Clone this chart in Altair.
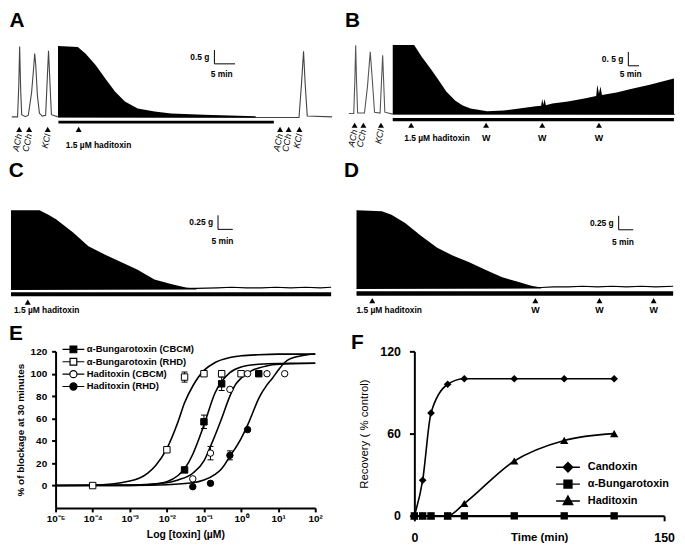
import altair as alt
import pandas as pd

FONT = "Liberation Sans"

# ---------------- Panel A : time (min), tension (g) ----------------
a_trace_t = [0.2, 1.6, 1.9, 2.1, 2.35, 2.6, 3.5, 4.2, 5.0, 5.5, 5.75, 6.0, 6.4, 6.9, 7.6, 8.4, 8.8, 9.1, 9.4, 9.8, 11.2,
             59.8, 69.8, 70.4, 70.9, 71.3, 71.8, 77.8]
a_trace_g = [0.02, 0.02, 1.2, 2.55, 1.0, 0.1, 0.03, 0.08, 0.9, 1.8, 2.3, 1.9, 0.8, 0.15, 0.05, 0.08, 1.4, 2.4, 1.4, 0.1, 0.03,
             0.0, 0.0, 1.2, 2.38, 1.2, 0.05, 0.02]
a_block_t = [11.4, 16.2, 18.1, 20.5, 22.9, 25.2, 27.6, 30.7, 34.8, 38.8, 46.7, 59.3]
a_block_g = [2.57, 2.54, 2.29, 1.89, 1.39, 0.93, 0.57, 0.32, 0.21, 0.14, 0.10, 0.04]
a_exposure = [11.5, 63.7]
a_agonist_t = [2.0, 4.4, 8.9, 65.2, 67.3, 69.9]
a_agonist_lbl = ["ACh", "CCh", "KCl", "ACh", "CCh", "KCl"]
a_toxin_t = [16.4]
a_wash_t = []
a_scalebar = {"t": 49.3, "g": 1.93, "dt": 5, "dg": 0.5, "lbl_g": "0.5 g", "lbl_t": "5 min"}

# ---------------- Panel B ----------------
b_trace_t = [1.8, 4.1, 4.6, 5.0, 5.4, 5.9, 9.1, 10.5, 11.8, 12.8, 13.8, 16.4, 17.0, 17.6, 18.1, 18.6, 21.8, 154.0]
b_trace_g = [0.03, 0.03, 1.2, 2.49, 1.2, 0.05, 0.05, 1.0, 2.25, 1.2, 0.08, 0.05, 1.1, 2.13, 1.1, 0.08, 0.02, 0.0]
b_block_t = [22.3, 32.3, 35.9, 40.0, 43.6, 47.3, 51.4, 55.0, 58.6, 66.4, 74.1, 81.4, 89.1, 91.6, 92.1, 92.6, 93.2,
             93.8, 96.8, 104.1, 111.8, 117.3, 117.8, 118.6, 119.3, 120.0, 126.8, 134.5, 142.3, 149.5, 153.6]
b_block_g = [2.50, 2.50, 2.07, 1.64, 1.25, 0.82, 0.50, 0.32, 0.21, 0.11, 0.14, 0.21, 0.29, 0.31, 0.55, 0.35, 0.55,
             0.33, 0.39, 0.46, 0.57, 0.66, 1.07, 0.75, 1.0, 0.7, 0.79, 0.93, 1.07, 1.21, 1.29]
b_exposure = [22.3, 153.6]
b_agonist_t = [4.5, 8.6, 16.8]
b_agonist_lbl = ["ACh", "CCh", "KCl"]
b_toxin_t = [30.9]
b_wash_t = [65.9, 92.1, 118.6]
b_scalebar = {"t": 132.3, "g": 1.75, "dt": 5, "dg": 0.5, "lbl_g": "0. 5 g", "lbl_t": "5 min"}

# ---------------- Panel C ----------------
c_trace_t = [0, 63.0, 70, 75, 80, 85, 90, 95, 100, 105, 108.7]
c_trace_g = [0.0, 0.02, 0.03, 0.04, 0.03, 0.03, 0.04, 0.03, 0.04, 0.03, 0.04]
c_block_t = [0, 9.7, 12.7, 15.3, 21.0, 26.3, 32.0, 37.7, 43.0, 48.7, 54.3, 59.7, 63.0]
c_block_g = [1.41, 1.41, 1.33, 1.25, 1.02, 0.77, 0.62, 0.48, 0.35, 0.18, 0.10, 0.03, 0.02]
c_exposure = [0, 108.7]
c_toxin_t = [5.7]
c_wash_t = []
c_scalebar = {"t": 70.3, "g": 1.07, "dt": 5, "dg": 0.25, "lbl_g": "0.25 g", "lbl_t": "5 min"}

# ---------------- Panel D ----------------
d_trace_t = [4.3, 67.7, 72, 77, 82, 87, 92, 97, 102, 107, 113.0]
d_trace_g = [0.0, 0.02, 0.03, 0.03, 0.04, 0.03, 0.04, 0.03, 0.04, 0.03, 0.04]
d_block_t = [4.3, 13.0, 16.3, 21.0, 26.3, 32.0, 37.7, 43.0, 48.7, 54.3, 59.7, 64.3, 67.7]
d_block_g = [1.40, 1.38, 1.32, 1.17, 0.95, 0.73, 0.58, 0.47, 0.33, 0.20, 0.12, 0.05, 0.02]
d_exposure = [4.3, 113.0]
d_toxin_t = [9.7]
d_wash_t = [65.7, 87.7, 106.3]
d_scalebar = {"t": 94.3, "g": 1.05, "dt": 5, "dg": 0.25, "lbl_g": "0.25 g", "lbl_t": "5 min"}

toxin_label = "1.5 µM haditoxin"

# ---------------- Panel E : concentration-response ----------------
e_series = ["α-Bungarotoxin (CBCM)", "α-Bungarotoxin (RHD)", "Haditoxin (CBCM)", "Haditoxin (RHD)"]
bgt_cbcm_conc = [0.03, 0.1, 0.3, 3]
bgt_cbcm_block = [14, 57, 91, 100]
bgt_cbcm_sem = [0, 6, 6, 0]
bgt_rhd_conc = [1e-4, 0.01, 0.03, 0.1, 0.3, 1]
bgt_rhd_block = [0, 32, 97, 100, 100, 100]
bgt_rhd_sem = [0, 0, 4.5, 0, 0, 0]
hdt_cbcm_conc = [0.05, 0.15, 0.5, 1.5, 5, 15]
hdt_cbcm_block = [6, 29, 86, 100, 100, 100]
hdt_cbcm_sem = [0, 6, 0, 0, 0, 0]
hdt_rhd_conc = [0.05, 0.15, 0.5, 1.5]
hdt_rhd_block = [-1, 2, 27, 50]
hdt_rhd_sem = [0, 0, 4, 0]

bgt_cbcm_fit_conc = [1e-5, 1e-3, 3e-3, 0.01, 0.02, 0.03, 0.05, 0.07, 0.1, 0.2, 0.3, 0.5, 1, 3, 10, 100]
bgt_cbcm_fit = [0, 0.2, 0.7, 3.5, 9, 15, 28, 40, 54, 83, 93, 101, 106, 108.5, 109.2, 109.3]
bgt_rhd_fit_conc = [1e-5, 1e-4, 1e-3, 3e-3, 5e-3, 0.01, 0.02, 0.03, 0.05, 0.1, 0.2, 0.5, 1, 3, 10, 100]
bgt_rhd_fit = [0, 0.3, 4, 11, 18, 33, 57, 74, 89, 103, 110, 114.5, 116, 117, 117.5, 117.5]
hdt_cbcm_fit_conc = [1e-5, 1e-3, 0.01, 0.02, 0.05, 0.1, 0.15, 0.2, 0.3, 0.5, 0.7, 1, 2, 3, 7, 20, 100]
hdt_cbcm_fit = [0, 0.5, 2.5, 5, 11, 22, 35, 45, 60, 80, 90, 96, 103, 105, 108, 109, 109.3]
hdt_rhd_fit_conc = [1e-5, 1e-3, 0.01, 0.05, 0.1, 0.2, 0.3, 0.5, 1, 1.5, 2, 3, 5, 7, 10, 15, 20, 50, 100]
hdt_rhd_fit = [0, 0.2, 0.8, 2.5, 5, 10, 15, 26, 42, 54, 64, 78, 90, 96, 103, 110, 113, 116.5, 117.6]

e_xticks = [1e-5, 1e-4, 1e-3, 1e-2, 1e-1, 1e0, 1e1, 1e2]
e_xtick_labels = ["10⁻⁵", "10⁻⁴", "10⁻³", "10⁻²", "10⁻¹", "10⁰", "10¹", "10²"]
e_yticks = [0, 20, 40, 60, 80, 100, 120]

# ---------------- Panel F : recovery ----------------
f_series = ["Candoxin", "α-Bungarotoxin", "Haditoxin"]
f_time = [0, 5, 10, 20, 30, 60, 90, 120]
f_candoxin = [0, 26, 75, 96, 100, 100, 100, 100]
f_bungarotoxin = [0, 0, 0, 0, 0, 0, 0, 0]
f_haditoxin = [0, 0, 0, 0, 9, 40, 55, 60]
f_xticks = [0, 150]
f_yticks = [0, 60, 120]


def trace_panel(letter, w, h, xdom, ydom, trace_t, trace_g, trace_color, block_t, block_g,
                expo, bar_g, arrow_g, agon_t, agon_lbl, agon_g, toxin_t, toxin_dx,
                wash_t, lbl_g, sb, sb_dy, title_offset):
    xs = alt.Scale(domain=xdom, nice=False, zero=False)
    ys = alt.Scale(domain=ydom, nice=False, zero=False)

    def X(f):
        return alt.X(f, scale=xs, axis=None)

    def Y(f):
        return alt.Y(f, scale=ys, axis=None)

    def YD(v):
        return alt.YDatum(v, scale=ys, axis=None)

    layers = [
        alt.Chart(pd.DataFrame({"t": trace_t, "g": trace_g}))
        .mark_line(color=trace_color, strokeWidth=1.1)
        .encode(x=X("t:Q"), y=Y("g:Q")),
        alt.Chart(pd.DataFrame({"t": block_t, "g": block_g}))
        .mark_area(color="black")
        .encode(x=X("t:Q"), y=Y("g:Q"), y2=alt.datum(0)),
        alt.Chart(pd.DataFrame({"t0": [expo[0]], "t1": [expo[1]]}))
        .mark_rect(color="black")
        .encode(x=X("t0:Q"), x2="t1:Q", y=YD(bar_g[0]), y2=alt.datum(bar_g[1])),
        alt.Chart(pd.DataFrame({"t": agon_t + toxin_t + wash_t}))
        .mark_point(shape="triangle-up", filled=True, color="black", size=36, opacity=1)
        .encode(x=X("t:Q"), y=YD(arrow_g)),
        alt.Chart(pd.DataFrame({"t": toxin_t, "lbl": [toxin_label] * len(toxin_t)}))
        .mark_text(align="left", baseline="middle", dx=toxin_dx, font=FONT, fontSize=8.5,
                   fontWeight="bold", color="black")
        .encode(x=X("t:Q"), y=YD(lbl_g), text="lbl:N"),
    ]
    if agon_t:
        layers.append(
            alt.Chart(pd.DataFrame({"t": agon_t, "lbl": agon_lbl}))
            .mark_text(angle=282, align="right", baseline="middle", font=FONT, fontSize=9,
                       fontStyle="italic", color="black")
            .encode(x=X("t:Q"), y=YD(agon_g), text="lbl:N"))
    if wash_t:
        layers.append(
            alt.Chart(pd.DataFrame({"t": wash_t, "lbl": ["W"] * len(wash_t)}))
            .mark_text(align="center", baseline="middle", font=FONT, fontSize=9,
                       fontWeight="bold", color="black")
            .encode(x=X("t:Q"), y=YD(lbl_g), text="lbl:N"))
    sdf = pd.DataFrame({
        "t0": [sb["t"]], "t1": [sb["t"] + sb["dt"]], "tm": [sb["t"] + sb["dt"] / 2],
        "g0": [sb["g"]], "g1": [sb["g"] + sb["dg"]], "gm": [sb["g"] + sb["dg"] / 2],
        "lg": [sb["lbl_g"]], "lt": [sb["lbl_t"]]})
    layers += [
        alt.Chart(sdf).mark_rule(color="black", strokeWidth=1)
        .encode(x=X("t0:Q"), y=Y("g0:Q"), y2="g1:Q"),
        alt.Chart(sdf).mark_rule(color="black", strokeWidth=1)
        .encode(x=X("t0:Q"), x2="t1:Q", y=Y("g0:Q")),
        alt.Chart(sdf).mark_text(align="right", baseline="middle", dx=-5, font=FONT, fontSize=8.5,
                                 fontWeight="bold", color="black")
        .encode(x=X("t0:Q"), y=Y("gm:Q"), text="lg:N"),
        alt.Chart(sdf).mark_text(align="center", baseline="middle", dx=-3, dy=sb_dy, font=FONT,
                                 fontSize=8.5, fontWeight="bold", color="black")
        .encode(x=X("tm:Q"), y=Y("g0:Q"), text="lt:N"),
    ]
    return alt.layer(*layers).properties(
        width=w, height=h,
        title=alt.TitleParams(letter, anchor="start", font=FONT, fontSize=21, fontWeight="bold",
                              color="black", offset=title_offset))


panel_a = trace_panel("A", 326, 116, [0, 78.3], [-1.32, 2.82], a_trace_t, a_trace_g, "#444",
                      a_block_t, a_block_g, a_exposure, [-0.12, -0.22], -0.43,
                      a_agonist_t, a_agonist_lbl, -0.6, a_toxin_t, -13, a_wash_t, -0.98,
                      a_scalebar, 10, 8)
panel_b = trace_panel("B", 333, 116, [0, 154.1], [-1.43, 2.71], b_trace_t, b_trace_g, "#555",
                      b_block_t, b_block_g, b_exposure, [-0.13, -0.25], -0.39,
                      b_agonist_t, b_agonist_lbl, -0.55, b_toxin_t, -7, b_wash_t, -0.86,
                      b_scalebar, 8, 8)
panel_c = trace_panel("C", 326, 118, [0, 109.7], [-0.5, 1.58], c_trace_t, c_trace_g, "black",
                      c_block_t, c_block_g, c_exposure, [-0.05, -0.12], -0.225,
                      [], [], 0, c_toxin_t, -14, c_wash_t, -0.37, c_scalebar, 12, 20)
panel_d = trace_panel("D", 333, 118, [0, 113.3], [-0.52, 1.57], d_trace_t, d_trace_g, "black",
                      d_block_t, d_block_g, d_exposure, [-0.05, -0.13], -0.215,
                      [], [], 0, d_toxin_t, -16, d_wash_t, -0.38, d_scalebar, 12, 20)

# ---------------- E chart ----------------
pts = []
for s, cc, vv, ee in zip(e_series,
                         [bgt_cbcm_conc, bgt_rhd_conc, hdt_cbcm_conc, hdt_rhd_conc],
                         [bgt_cbcm_block, bgt_rhd_block, hdt_cbcm_block, hdt_rhd_block],
                         [bgt_cbcm_sem, bgt_rhd_sem, hdt_cbcm_sem, hdt_rhd_sem]):
    for c, v, e in zip(cc, vv, ee):
        pts.append({"conc": c, "pct": v, "sem": e, "series": s})
points_e = pd.DataFrame(pts)

fits = []
for s, cc, vv in zip(e_series,
                     [bgt_cbcm_fit_conc, bgt_rhd_fit_conc, hdt_cbcm_fit_conc, hdt_rhd_fit_conc],
                     [bgt_cbcm_fit, bgt_rhd_fit, hdt_cbcm_fit, hdt_rhd_fit]):
    for c, v in zip(cc, vv):
        fits.append({"conc": c, "pct": v, "series": s})
curves_e = pd.DataFrame(fits)

E_LEFT, E_PLOT_W, E_H = 45, 262, 158
label_expr = "[" + ",".join("'%s'" % l for l in e_xtick_labels) + "][round(log(datum.value) / LN10) + 5]"
xs_e = alt.Scale(type="log", domain=[1e-5, 100], range=[E_LEFT, E_LEFT + E_PLOT_W], nice=False)
ys_e = alt.Scale(domain=[-20, 120], nice=False, zero=False)
ax_ex = alt.Axis(values=e_xticks, labelExpr=label_expr, title="Log [toxin] (µM)", labelFontSize=10,
                 labelFontWeight="bold", titleFontSize=10.5, titleFontWeight="bold", tickSize=4,
                 labelPadding=2, titlePadding=6, labelFlush=False, titleX=E_LEFT + E_PLOT_W / 2)
ax_ey = alt.Axis(values=e_yticks, title="% of blockage at 30 minutes", labelFontSize=10,
                 labelFontWeight="bold", titleFontSize=10, titleFontWeight="bold", tickSize=4,
                 labelPadding=5, titlePadding=5, offset=-E_LEFT)
XE = alt.X("conc:Q", scale=xs_e, axis=ax_ex)
YE = alt.Y("pct:Q", scale=ys_e, axis=ax_ey)

e_curves = alt.Chart(curves_e).mark_line(interpolate="monotone", color="black", strokeWidth=1.6).encode(
    x=XE, y=YE, detail="series:N")
e_err_base = alt.Chart(points_e).transform_filter("datum.sem > 0").transform_calculate(
    lo="datum.pct - datum.sem", hi="datum.pct + datum.sem")
e_err = e_err_base.mark_rule(color="black", strokeWidth=1).encode(
    x=XE, y=alt.Y("lo:Q", scale=ys_e, axis=ax_ey), y2="hi:Q")
e_cap_lo = e_err_base.mark_point(shape="M-1,0H1", size=36, color="black", strokeWidth=1, opacity=1).encode(
    x=XE, y=alt.Y("lo:Q", scale=ys_e, axis=ax_ey))
e_cap_hi = e_err_base.mark_point(shape="M-1,0H1", size=36, color="black", strokeWidth=1, opacity=1).encode(
    x=XE, y=alt.Y("hi:Q", scale=ys_e, axis=ax_ey))

e_marker_style = [("square", "black"), ("square", "white"), ("circle", "white"), ("circle", "black")]
e_markers = []
for s, (shp, fc) in zip(e_series, e_marker_style):
    e_markers.append(
        alt.Chart(points_e).transform_filter(alt.datum.series == s)
        .mark_point(shape=shp, filled=True, fill=fc, stroke="black", strokeWidth=1, size=42, opacity=1)
        .encode(x=XE, y=YE))

e_paths = [
    "M-2.75,0H2.75M-0.85,-0.85H0.85V0.85H-0.85Z",
    "M-2.75,0H-0.85M0.85,0H2.75M-0.85,-0.85H0.85V0.85H-0.85Z",
    "M-2.75,0H-0.9M0.9,0H2.75M-0.9,0A0.9,0.9,0,1,0,0.9,0A0.9,0.9,0,1,0,-0.9,0Z",
    "M-2.75,0H2.75M-0.9,0A0.9,0.9,0,1,0,0.9,0A0.9,0.9,0,1,0,-0.9,0Z",
]
leg_e = alt.Legend(orient="none", legendX=E_LEFT + 13, legendY=-7, title=None, symbolSize=64,
                   symbolStrokeColor="black", symbolStrokeWidth=1.2, symbolOpacity=1,
                   labelFont=FONT, labelFontSize=9.5, labelFontWeight="bold", labelColor="black",
                   labelOffset=8.5, rowPadding=0.5, padding=0)
e_legend = alt.Chart(points_e).mark_point(filled=True, opacity=0, strokeWidth=1.2).encode(
    x=XE, y=YE,
    shape=alt.Shape("series:N", scale=alt.Scale(domain=e_series, range=e_paths), legend=leg_e),
    fill=alt.Fill("series:N", scale=alt.Scale(domain=e_series, range=["black", "white", "white", "black"]),
                  legend=leg_e),
    stroke=alt.Stroke("series:N", scale=alt.Scale(domain=e_series, range=["black"] * 4), legend=leg_e))

panel_e = alt.layer(e_curves, e_err, e_cap_lo, e_cap_hi, *e_markers, e_legend).properties(
    width=E_LEFT + E_PLOT_W, height=E_H,
    title=alt.TitleParams("E", anchor="start", font=FONT, fontSize=21, fontWeight="bold", color="black",
                          offset=0, dx=-2))

# ---------------- F chart ----------------
frows = []
for s, vv in zip(f_series, [f_candoxin, f_bungarotoxin, f_haditoxin]):
    for t, v in zip(f_time, vv):
        frows.append({"time": t, "pct": v, "series": s})
df_f = pd.DataFrame(frows)

F_LEFT, F_PLOT_W, F_H = 58, 252, 166
xs_f = alt.Scale(domain=[0, 150], range=[F_LEFT, F_LEFT + F_PLOT_W], nice=False, zero=False)
ys_f = alt.Scale(domain=[0, 120], nice=False, zero=False)
XF = alt.X("time:Q", scale=xs_f,
           axis=alt.Axis(values=f_xticks, title="Time (min)", labelFontSize=12.5, labelFontWeight="bold",
                         titleFontSize=11.5, titleFontWeight="bold", tickSize=5, labelPadding=11,
                         titlePadding=-13, titleX=F_LEFT + F_PLOT_W / 2, labelFlush=False))
YF = alt.Y("pct:Q", scale=ys_f,
           axis=alt.Axis(values=f_yticks, title="Recovery ( % control)", labelFontSize=12.5,
                         labelFontWeight="bold", titleFontSize=11.5, titleFontWeight="normal",
                         tickSize=5, labelPadding=9, titlePadding=10, offset=-F_LEFT))

f_lines = alt.Chart(df_f).mark_line(interpolate="monotone", color="black", strokeWidth=1.6).encode(
    x=XF, y=YF, detail="series:N")
f_marker_style = [("diamond", 60), ("square", 55), ("triangle-up", 70)]
f_markers = []
for s, (shp, sz) in zip(f_series, f_marker_style):
    f_markers.append(
        alt.Chart(df_f).transform_filter(alt.datum.series == s)
        .mark_point(shape=shp, filled=True, color="black", size=sz, opacity=1)
        .encode(x=XF, y=YF))
f_paths = [
    "M-2.4,0H2.4M0,-0.95L0.95,0L0,0.95L-0.95,0Z",
    "M-2.4,0H2.4M-0.8,-0.8H0.8V0.8H-0.8Z",
    "M-2.4,0H2.4M0,-1L0.95,0.7H-0.95Z",
]
leg_f = alt.Legend(orient="none", legendX=F_LEFT + 149, legendY=111, title=None, symbolSize=100,
                   symbolStrokeColor="black", symbolStrokeWidth=1.4, symbolOpacity=1,
                   labelFont=FONT, labelFontSize=11, labelFontWeight="bold", labelColor="black",
                   labelOffset=14, rowPadding=2, padding=0)
f_legend = alt.Chart(df_f).mark_point(filled=True, opacity=0, strokeWidth=1.4).encode(
    x=XF, y=YF,
    shape=alt.Shape("series:N", scale=alt.Scale(domain=f_series, range=f_paths), legend=leg_f),
    fill=alt.Fill("series:N", scale=alt.Scale(domain=f_series, range=["black"] * 3), legend=leg_f),
    stroke=alt.Stroke("series:N", scale=alt.Scale(domain=f_series, range=["black"] * 3), legend=leg_f))

panel_f = alt.layer(f_lines, *f_markers, f_legend).properties(
    width=F_LEFT + F_PLOT_W, height=F_H,
    title=alt.TitleParams("F", anchor="start", font=FONT, fontSize=21, fontWeight="bold", color="black",
                          offset=-8, dx=-6))

row1 = alt.hconcat(panel_a, panel_b, spacing=10)
row2 = alt.hconcat(panel_c, panel_d, spacing=10)
row3 = (alt.hconcat(panel_e, panel_f, spacing=28)
        .resolve_scale(shape="independent", fill="independent", stroke="independent")
        .resolve_legend(shape="independent", fill="independent", stroke="independent"))

chart = (
    alt.vconcat(row1, row2, row3, spacing=6)
    .properties(padding=0)
    .resolve_scale(shape="independent", fill="independent", stroke="independent")
    .resolve_legend(shape="independent", fill="independent", stroke="independent")
    .configure_view(stroke=None)
    .configure_axis(grid=False, domainColor="black", domainWidth=2, tickColor="black", tickWidth=2,
                    labelColor="black", titleColor="black", labelFont=FONT, titleFont=FONT)
)

chart.save("out.html", embed_options={"renderer": "svg", "actions": False})
